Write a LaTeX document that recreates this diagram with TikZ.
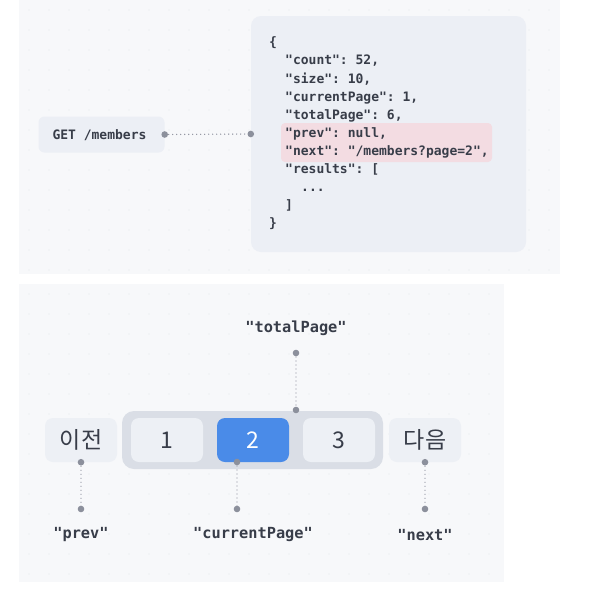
\documentclass[tikz,border=0pt]{standalone}
\usepackage{fontspec}
\setmonofont{DejaVu Sans Mono}
\newfontfamily\krfont{Noto Sans CJK KR}
\definecolor{panelbg}{HTML}{F7F8FA}
\definecolor{griddot}{HTML}{E4E7EC}
\definecolor{boxbg}{HTML}{ECEFF5}
\definecolor{hlbg}{HTML}{F3DCE2}
\definecolor{txt}{HTML}{383D49}
\definecolor{dotc}{HTML}{8C909C}
\definecolor{contbg}{HTML}{DADEE6}
\definecolor{btnbg}{HTML}{EDF0F5}
\definecolor{blue}{HTML}{4A8BE8}
\tikzset{
  codetxt/.style={font=\fontsize{13}{15}\ttfamily\bfseries, text=txt, inner sep=0pt, anchor=base west},
  lbltxt/.style={font=\fontsize{15.3}{18}\ttfamily\bfseries, text=txt, inner sep=0pt},
  softbox/.style={fill=boxbg, draw=none, rounded corners=6pt},
  btn/.style={fill=btnbg, draw=none, rounded corners=8pt, minimum width=72pt, minimum height=44pt, inner sep=0pt, text=txt, font=\fontsize{23}{26}\krfont},
  dotline/.style={draw=dotc, line width=1.4pt, line cap=round, dash pattern=on 0pt off 4pt},
  enddot/.style={fill=dotc}
}
\begin{document}
\begin{tikzpicture}[x=1pt,y=-1pt]
\useasboundingbox (0,0) rectangle (610,616);
% panels
\fill[panelbg] (19,0) rectangle (560,274);
\fill[panelbg] (19,284) rectangle (504,582);
\foreach \x in {29,49,...,549} \foreach \y in {10,30,...,270} \fill[griddot] (\x,\y) circle (0.7);
\foreach \x in {29,49,...,499} \foreach \y in {294,314,...,574} \fill[griddot] (\x,\y) circle (0.7);
% top part
\node[softbox, minimum width=126pt, minimum height=36pt, inner sep=0pt] (get) at (101.5,134.5) {};
\node[codetxt, anchor=base] (gettxt) at (99.5,139) {GET /members};
\node[softbox, rounded corners=10pt, minimum width=275pt, minimum height=236pt] (json) at (388.5,134) {};
\node[fill=hlbg, rounded corners=4pt, minimum width=211pt, minimum height=39pt, inner sep=0pt] (hl) at (386.5,142.5) {};
\draw[dotline] (get.east) -- (json.west);
\fill[enddot] (get.east) circle (3.3);
\fill[enddot] (json.west) circle (3.3);
\node[codetxt] (l0) at (269,46.8) {\{};
\node[codetxt] (l1) at (285,64.9) {"count": 52,};
\node[codetxt] (l2) at (285,83.0) {"size": 10,};
\node[codetxt] (l3) at (285,101.1) {"currentPage": 1,};
\node[codetxt] (l4) at (285,119.2) {"totalPage": 6,};
\node[codetxt] (l5) at (285,137.3) {"prev": null,};
\node[codetxt] (l6) at (285,155.4) {"next": "/members?page=2",};
\node[codetxt] (l7) at (285,173.5) {"results": [};
\node[codetxt] (l8) at (301,191.6) {...};
\node[codetxt] (l9) at (285,209.7) {]};
\node[codetxt] (l10) at (269,227.8) {\}};
% bottom part
\node[fill=contbg, rounded corners=12pt, minimum width=261pt, minimum height=58pt, inner sep=0pt] (cont) at (252.5,440) {};
\node[btn] (prevb) at (81,440) {이전};
\node[btn] (b1) at (167,440) {1};
\node[btn, fill=blue, text=white] (b2) at (253,440) {2};
\node[btn] (b3) at (339,440) {3};
\node[btn] (nextb) at (425,440) {다음};
% labels
\node[lbltxt] (tp) at (296,328) {"totalPage"};
\node[lbltxt] (pv) at (81,535) {"prev"};
\node[lbltxt] (cp) at (253,535) {"currentPage"};
\node[lbltxt] (nx) at (425,535) {"next"};
% connectors
\coordinate (tpA) at (296,353);
\coordinate (tpB) at (296,410);
\coordinate (pvB) at (81,509);
\coordinate (cpA) at (237,462);
\coordinate (cpB) at (237,509);
\coordinate (nxB) at (425,509);
\draw[dotline] (tpA) -- (tpB);
\draw[dotline] (prevb.south) -- (pvB);
\draw[dotline] (cpA) -- (cpB);
\draw[dotline] (nextb.south) -- (nxB);
\foreach \p in {tpA,tpB,prevb.south,pvB,cpA,cpB,nextb.south,nxB} \fill[enddot] (\p) circle (3.3);
\end{tikzpicture}
\end{document}
